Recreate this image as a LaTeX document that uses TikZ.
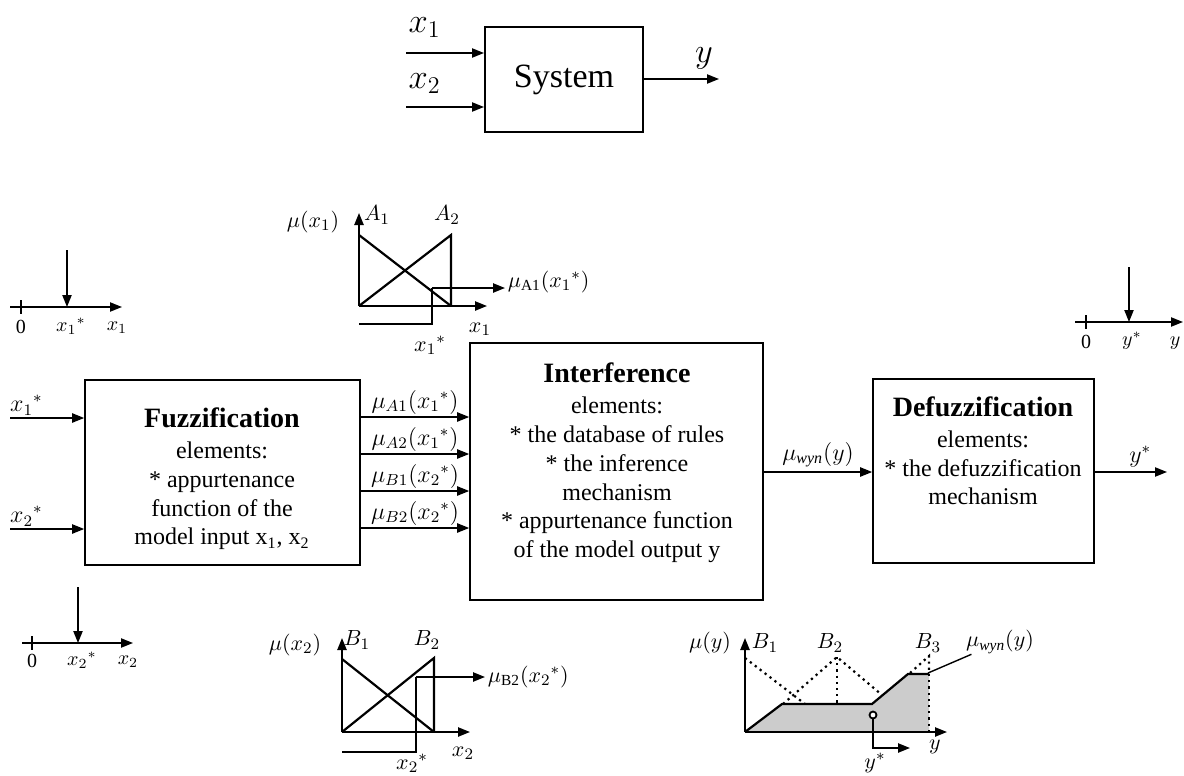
\documentclass[tikz,border=0pt]{standalone}
\usepackage{fontspec}
\setmainfont{Liberation Serif}
\usetikzlibrary{arrows.meta,positioning}

\begin{document}
\begin{tikzpicture}[->,>={Triangle[length=6pt,width=4.6pt]},x=0.5pt,y=-0.5pt,line width=0.8pt,
                    font=\fontsize{12}{14.4}\selectfont]
  \tikzstyle{block}=[draw,rectangle,inner sep=0pt]
  \tikzstyle{blocktext}=[align=center,inner sep=0pt]
  \tikzstyle{lbl}=[font=\fontsize{10}{12}\selectfont,inner sep=1pt]
  \tikzstyle{plbl}=[font=\fontsize{11}{13}\selectfont,inner sep=1pt]
  \tikzstyle{mf}=[-,line width=1.1pt]
  \tikzstyle{mfdot}=[-,line width=1.1pt,dotted]
  \tikzstyle{guide}=[line width=0.9pt]

  \useasboundingbox (0,0) rectangle (1184,776);

  % the system as a black box
  \node[block,line width=1pt,minimum width=79pt,minimum height=52.5pt,
        font=\fontsize{17}{20}\selectfont] (sys) at (564,79.5) {System};
  \coordinate (s1) at (406,53);
  \coordinate (s2) at (406,107);
  \coordinate (sy) at (719,79);
  \draw (s1) -- node[above=4pt,pos=0.24,font=\fontsize{17}{20}\selectfont] {$x_1$} (s1 -| sys.west);
  \draw (s2) -- node[above=3pt,pos=0.24,font=\fontsize{17}{20}\selectfont] {$x_2$} (s2 -| sys.west);
  \draw (sys.east |- sy) -- node[above=1pt,pos=0.8,font=\fontsize{17}{20}\selectfont] {$y$} (sy);

  % the three blocks
  \node[block,minimum width=137.5pt,minimum height=92.5pt] (fuz) at (222.5,472.5) {};
  \node[block,minimum width=146.5pt,minimum height=128.5pt] (inf) at (616.5,471.5) {};
  \node[block,minimum width=110.5pt,minimum height=92pt] (def) at (983.5,471) {};

  \node[blocktext] (fuztxt) at (222,479) {{\fontsize{14}{16}\selectfont\bfseries Fuzzification}\\[1pt]
      elements:\\ * appurtenance\\ function of the\\ model input x\textsubscript{1}, x\textsubscript{2}};
  \node[blocktext] (inftxt) at (617,463) {{\fontsize{14}{16}\selectfont\bfseries Interference}\\[1pt]
      elements:\\ * the database of rules\\ * the inference\\ mechanism\\
      * appurtenance function\\ of the model output y};
  \node[blocktext] (deftxt) at (983,451) {{\fontsize{14}{16}\selectfont\bfseries Defuzzification}\\[1pt]
      elements:\\ * the defuzzification\\ mechanism};

  % connections
  \coordinate (x1in) at (10,418);
  \coordinate (x2in) at (10,529);
  \draw (x1in) -- node[above,pos=0.22,inner sep=1pt] {$x_1{}^{*}$} (x1in -| fuz.west);
  \draw (x2in) -- node[above,pos=0.22,inner sep=1pt] {$x_2{}^{*}$} (x2in -| fuz.west);
  \foreach \yy/\mset/\xidx in {417/A1/1,454/A2/1,491/B1/2,528/B2/2}
    \draw (fuz.east |- 0,\yy) -- node[above,inner sep=1pt] {$\mu_{\mset}(x_{\xidx}{}^{*})$} (inf.west |- 0,\yy);
  \draw (inf.east |- 0,472) -- node[above,inner sep=2pt] {$\mu_{\mathit{wyn}}(y)$} (def.west |- 0,472);
  \coordinate (yout) at (1167,472);
  \draw (def.east |- yout) -- node[above,pos=0.63,inner sep=2pt] {$y^{*}$} (yout);

  % crisp input x1
  \draw (10,307) -- (122,307);
  \draw[-] (21,300) -- (21,314);
  \draw (67,250) -- (67,307);
  \node[lbl] (zeroA) at (21,327) {0};
  \node[lbl] (xsA) at (71,326) {$x_1{}^{*}$};
  \node[lbl] (xA) at (117,328) {$x_1$};

  % crisp input x2
  \draw (22,643) -- (133,643);
  \draw[-] (32,636) -- (32,650);
  \draw (78,587) -- (78,643);
  \node[lbl] (zeroB) at (32,661) {0};
  \node[lbl] (xsB) at (82,660) {$x_2{}^{*}$};
  \node[lbl] (xB) at (128,662) {$x_2$};

  % crisp output y
  \draw (1075,322) -- (1183,322);
  \draw[-] (1086,315) -- (1086,329);
  \draw (1129,267) -- (1129,322);
  \node[lbl] (zeroC) at (1086,342) {0};
  \node[lbl] (ysC) at (1132,341) {$y^{*}$};
  \node[lbl] (yC) at (1175,343) {$y$};

  % membership of x1
  \draw[guide] (359,306) -- (487,306);
  \draw[guide] (359,306) -- (359,213);
  \draw[mf] (359,235) -- (451,306);
  \draw[mf] (359,306) -- (451,235) -- (451,306);
  \draw[guide,-] (359,324) -- (432,324) -- (432,288);
  \draw[guide] (432,288) -- (505,288) node[plbl,right,yshift=3pt] (muA) {$\mu_{\mathrm{A1}}(x_1{}^{*})$};
  \node[plbl] (mxA) at (313,222) {$\mu(x_1)$};
  \node[plbl] (A1) at (377,215) {$A_1$};
  \node[plbl] (A2) at (447,215) {$A_2$};
  \node[plbl] (xaxA) at (480,329) {$x_1$};
  \node[plbl] (xstA) at (430,345) {$x_1{}^{*}$};

  % membership of x2
  \draw[guide] (342,732) -- (470,732);
  \draw[guide] (342,732) -- (342,638);
  \draw[mf] (342,659) -- (434,732);
  \draw[mf] (342,732) -- (434,658) -- (434,732);
  \draw[guide,-] (342,752) -- (416,752) -- (416,677);
  \draw[guide] (416,677) -- (485,677) node[plbl,right] (muB) {$\mu_{\mathrm{B2}}(x_2{}^{*})$};
  \node[plbl] (mxB) at (295,645) {$\mu(x_2)$};
  \node[plbl] (B1a) at (357,640) {$B_1$};
  \node[plbl] (B2a) at (427,640) {$B_2$};
  \node[plbl] (xaxB) at (463,753) {$x_2$};
  \node[plbl] (xstB) at (412,763) {$x_2{}^{*}$};

  % output membership and centroid
  \fill[gray!40] (745,732) -- (782,704) -- (872,704) -- (908,674) -- (929,674) -- (929,732) -- cycle;
  \draw[guide] (745,732) -- (947,732);
  \draw[guide] (745,732) -- (745,638);
  \draw[mf] (745,732) -- (782,704) -- (872,704) -- (908,674) -- (929,674);
  \draw[mfdot] (929,674) -- (929,732);
  \draw[mfdot] (745,658) -- (805,704);
  \draw[mfdot] (783,704) -- (837,657) -- (882,695);
  \draw[mfdot] (837,657) -- (837,704);
  \draw[mfdot] (910,673) -- (929,656) -- (929,674);
  \draw[guide,-,fill=white] (873,715) circle (3.5);
  \draw[guide] (873,718.5) -- (873,748) -- (910,748);
  \node[plbl] (my) at (710,643) {$\mu(y)$};
  \node[plbl] (B1b) at (765,643) {$B_1$};
  \node[plbl] (B2b) at (830,643) {$B_2$};
  \node[plbl] (B3b) at (928,643) {$B_3$};
  \node[plbl] (muwyn) at (1000,642) {$\mu_{\mathit{wyn}}(y)$};
  \draw[-,line width=0.7pt] ([xshift=4pt,yshift=1pt]muwyn.south west) -- (928,673);
  \node[plbl] (yax) at (935,747) {$y$};
  \node[plbl] (ystar) at (875,763) {$y^{*}$};
\end{tikzpicture}
\end{document}
